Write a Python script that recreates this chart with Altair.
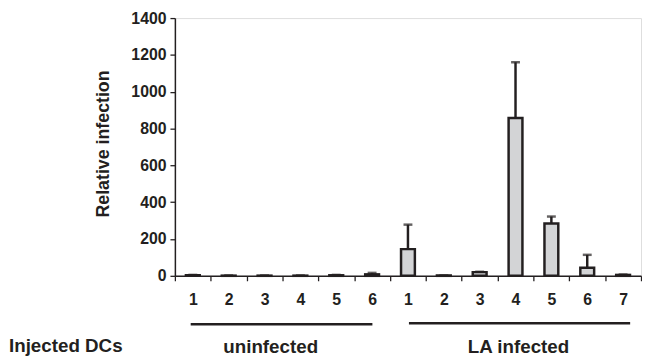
import altair as alt
import pandas as pd

# ---- data ----
cat_ids = ["u1", "u2", "u3", "u4", "u5", "u6",
           "L1", "L2", "L3", "L4", "L5", "L6", "L7"]
tick_labels = ["1", "2", "3", "4", "5", "6",
               "1", "2", "3", "4", "5", "6", "7"]
means = [3, 1, 1, 1, 3, 8,
         145, 2, 20, 857, 284, 44, 5]
errors = [2, 1, 1, 1, 2, 8,
          133, 0, 2, 303, 38, 70, 2]
y_ticks = [0, 200, 400, 600, 800, 1000, 1200, 1400]
group_names = ["uninfected", "LA infected"]
row_title = "Injected DCs"
y_title = "Relative infection"

df = pd.DataFrame({
    "cat": cat_ids,
    "lab": tick_labels,
    "mean": means,
    "err": errors,
})
df["top"] = df["mean"] + df["err"]

FONT = "Liberation Sans"
INK = "#231f20"

x_axis = alt.Axis(
    title=None,
    tickBand="extent",
    labelExpr="substring(datum.label, 1)",
    labelAngle=0,
    tickSize=5,
    labelPadding=11,
    labelFontSize=16,
    labelFont=FONT,
    labelFontWeight="bold",
    labelColor=INK,
    domainColor=INK,
    tickColor=INK,
    domainWidth=1.5,
    tickWidth=1.3,
    grid=False,
)
x_scale = alt.Scale(paddingInner=0, paddingOuter=0)

y_scale = alt.Scale(domain=[0, 1400], nice=False)
y_axis = alt.Axis(
    title=y_title,
    values=y_ticks,
    format="d",
    labelOverlap=False,
    labelFlush=False,
    grid=False,
    tickSize=5,
    labelPadding=4,
    labelFontSize=16,
    labelFont=FONT,
    labelFontWeight="bold",
    labelColor=INK,
    domainColor=INK,
    tickColor=INK,
    domainWidth=1.5,
    tickWidth=1.3,
    titleFont=FONT,
    titleFontSize=18,
    titleFontWeight="bold",
    titleColor=INK,
    titleAngle=-90,
    titleX=-63,
    titleY=127,
    titleAlign="center",
    titleBaseline="bottom",
)


def xe():
    return alt.X("cat:N", sort=cat_ids, scale=x_scale, axis=x_axis)


def ye(field):
    return alt.Y(field, scale=y_scale, axis=y_axis, title=y_title)


base = alt.Chart(df)

err_rules = base.mark_rule(color=INK, strokeWidth=2.5).encode(
    x=xe(),
    y=ye("mean:Q"),
    y2="top:Q",
)
caps = base.mark_tick(color=INK, size=9, thickness=2.5).encode(
    x=xe(),
    y=ye("top:Q"),
)
bars = base.mark_bar(size=14, fill="#d3d4d6", stroke=INK, strokeWidth=2.5).encode(
    x=xe(),
    y=ye("mean:Q"),
)

one = pd.DataFrame({"k": [0]})

line_u = alt.Chart(one).mark_rule(color=INK, strokeWidth=2.5).encode(
    x=alt.value(16), x2=alt.value(200), y=alt.value(310)
)
line_la = alt.Chart(one).mark_rule(color=INK, strokeWidth=2.5).encode(
    x=alt.value(237), x2=alt.value(461), y=alt.value(309)
)
txt_style = dict(font=FONT, fontSize=19, fontWeight="bold", color=INK, baseline="alphabetic")
txt_u = alt.Chart(one).mark_text(text=group_names[0], align="center", **txt_style).encode(
    x=alt.value(97), y=alt.value(339)
)
txt_la = alt.Chart(one).mark_text(text=group_names[1], align="center", **txt_style).encode(
    x=alt.value(348), y=alt.value(339)
)
txt_row = alt.Chart(one).mark_text(text=row_title, align="left", **txt_style).encode(
    x=alt.value(-168), y=alt.value(338)
)

chart = alt.layer(
    err_rules, bars, caps, line_u, line_la, txt_u, txt_la, txt_row
).properties(
    width=472,
    height=261,
    autosize=alt.AutoSizeParams(type="none"),
    padding={"left": 169, "top": 8, "right": 1, "bottom": 80},
).configure_view(stroke=None).configure(background="white")

chart.save("out.html", embed_options={"renderer": "svg", "actions": False})
